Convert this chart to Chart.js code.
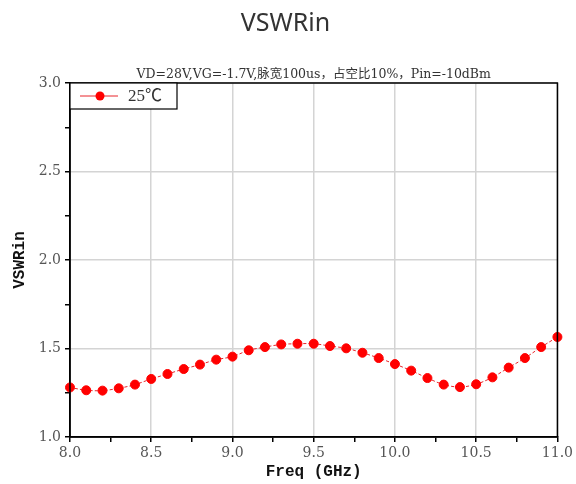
<!DOCTYPE html>
<html>
<head>
<meta charset="utf-8">
<script src="https://cdn.jsdelivr.net/npm/chart.js@4"></script>
<style>
  html, body { margin: 0; padding: 0; background: #fff; }
  #wrap { width: 576px; height: 484px; }
</style>
</head>
<body>
<div id="wrap"><canvas id="vswrChart"></canvas></div>
<script>
// Chart data
const freqGHz = [8.0, 8.1, 8.2, 8.3, 8.4, 8.5, 8.6, 8.7, 8.8, 8.9,
                 9.0, 9.1, 9.2, 9.3, 9.4, 9.5, 9.6, 9.7, 9.8, 9.9,
                 10.0, 10.1, 10.2, 10.3, 10.4, 10.5, 10.6, 10.7, 10.8, 10.9, 11.0];
const vswr25 = [1.28, 1.264, 1.262, 1.275, 1.296, 1.328, 1.356, 1.384, 1.409, 1.437,
                1.454, 1.49, 1.508, 1.523, 1.527, 1.527, 1.514, 1.501, 1.476, 1.446,
                1.412, 1.375, 1.333, 1.296, 1.282, 1.298, 1.337, 1.392, 1.446, 1.508, 1.565];
const seriesLabel = '25℃';
const titleText = 'VSWRin';
const conditionText = 'VD=28V,VG=-1.7V,脉宽100us，占空比10%，Pin=-10dBm';

const serif = '"DejaVu Serif", "Noto Sans CJK SC", serif';
const mono = '"Liberation Mono", "DejaVu Sans Mono", monospace';

function isMajor(v) {
  return Math.abs(v * 2 - Math.round(v * 2)) < 1e-6;
}

// Frame around the plot + legend box inside the top-left corner
const framePlugin = {
  id: 'frame',
  afterDraw(chart) {
    const { ctx, chartArea: a } = chart;
    ctx.save();
    ctx.strokeStyle = '#000';
    ctx.lineWidth = 1.5;
    ctx.strokeRect(a.left, a.top, a.right - a.left, a.bottom - a.top);

    // legend
    const ds = chart.data.datasets[0];
    const x = a.left, y = a.top, w = 107, h = 26;
    ctx.fillStyle = '#fff';
    ctx.fillRect(x, y, w, h);
    ctx.lineWidth = 1.2;
    ctx.strokeRect(x, y, w, h);
    ctx.strokeStyle = ds.borderColor;
    ctx.lineWidth = 1;
    ctx.beginPath();
    ctx.moveTo(x + 10, y + 13);
    ctx.lineTo(x + 48, y + 13);
    ctx.stroke();
    ctx.fillStyle = ds.pointBackgroundColor;
    ctx.beginPath();
    ctx.arc(x + 30, y + 13, 4.5, 0, Math.PI * 2);
    ctx.fill();
    ctx.fillStyle = '#333';
    ctx.font = '17px "Liberation Serif", "Noto Sans CJK SC", serif';
    ctx.textBaseline = 'middle';
    ctx.fillText(ds.label, x + 58, y + 14);
    ctx.restore();
  }
};

document.addEventListener('DOMContentLoaded', function() {
  const ctx = document.getElementById('vswrChart');
  new Chart(ctx, {
    type: 'line',
    data: {
      datasets: [{
        label: seriesLabel,
        data: freqGHz.map((f, i) => ({ x: f, y: vswr25[i] })),
        borderColor: '#e8242a',
        backgroundColor: '#ff0000',
        pointBackgroundColor: '#ff0000',
        pointBorderColor: '#ff0000',
        pointRadius: 4.5,
        borderWidth: 1,
        borderDash: [3, 2],
        tension: 0.3,
        clip: false
      }]
    },
    options: {
      responsive: true,
      maintainAspectRatio: false,
      animation: false,
      layout: { padding: { left: 8, right: 13, top: 0, bottom: 2 } },
      plugins: {
        legend: { display: false },
        tooltip: { enabled: false },
        title: {
          display: true,
          text: titleText,
          color: '#333',
          font: { family: '"Noto Sans", sans-serif', size: 25, weight: 'normal' },
          padding: { top: 9, bottom: 28 }
        },
        subtitle: {
          display: true,
          fullSize: false,
          text: conditionText,
          color: '#333',
          font: { family: serif, size: 12.5 },
          padding: { top: 0, bottom: 1 }
        }
      },
      scales: {
        x: {
          type: 'linear',
          min: 8,
          max: 11,
          ticks: {
            stepSize: 0.25,
            autoSkip: false,
            maxRotation: 0,
            color: '#555',
            font: { family: serif, size: 14 },
            padding: 3,
            callback: v => isMajor(v) ? v.toFixed(1) : ''
          },
          grid: {
            color: c => isMajor(c.tick.value) ? '#d4d4d4' : 'rgba(0,0,0,0)',
            lineWidth: 1.5,
            tickColor: '#000',
            tickLength: 5
          },
          border: { color: '#000', width: 1.5 },
          title: {
            display: true,
            text: 'Freq (GHz)',
            color: '#111',
            font: { family: mono, size: 16, weight: 'bold' },
            padding: { top: -2, bottom: 0 }
          }
        },
        y: {
          min: 1,
          max: 3,
          ticks: {
            stepSize: 0.25,
            autoSkip: false,
            color: '#555',
            font: { family: serif, size: 14 },
            padding: 4,
            callback: v => isMajor(v) ? v.toFixed(1) : ''
          },
          grid: {
            color: c => isMajor(c.tick.value) ? '#d4d4d4' : 'rgba(0,0,0,0)',
            lineWidth: 1.5,
            tickColor: '#000',
            tickLength: 5
          },
          border: { color: '#000', width: 1.5 },
          title: {
            display: true,
            text: 'VSWRin',
            color: '#111',
            font: { family: mono, size: 16, weight: 'bold' },
            padding: { top: 2, bottom: 0 }
          },
          afterFit: scale => { scale.width = 62; }
        }
      }
    },
    plugins: [framePlugin]
  });
});
</script>
</body>
</html>
